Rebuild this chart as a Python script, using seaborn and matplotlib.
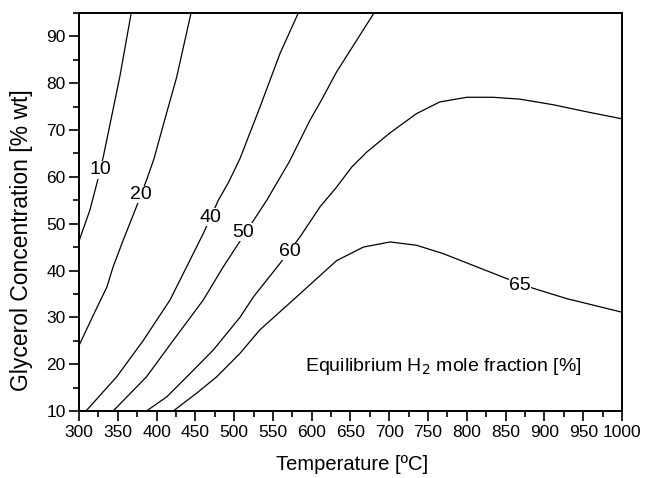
import matplotlib
matplotlib.use("Agg")
import matplotlib.pyplot as plt
import matplotlib.font_manager as fm
import seaborn as sns
import pandas as pd
from matplotlib.ticker import MultipleLocator

# Contour lines: temperature [°C] and glycerol concentration [% wt]
t10 = [300, 314, 323, 331.3, 352.5, 367.3]
g10 = [46.3, 52.9, 58.6, 64.3, 81.3, 95]

t20 = [300, 320, 336, 344, 357, 374, 387, 396.7, 411, 425.9, 444.4]
g20 = [24, 31, 36.5, 40.8, 46.5, 53.6, 59.3, 63.9, 72.5, 81.3, 95]

t40 = [309, 348.6, 383, 417.3, 438.8, 460.2, 479.6, 493, 507.5, 533.3,
       559, 582.7]
g40 = [10, 17.3, 25.1, 33.7, 40.8, 47.9, 55, 58.9, 63.9, 74.9, 86.3, 95]

t50 = [344, 387, 421.6, 460.2, 486, 505.3, 542, 571, 597.8, 612.9, 632,
       680.3]
g50 = [10, 17.3, 25.1, 33.7, 40.8, 45.7, 55, 63.2, 72.1, 76.5, 82.4, 95]

t60 = [387, 413, 439, 473, 507.5, 525, 559, 585, 610.7, 632, 651.6,
       671, 701, 735, 765, 800, 834, 868.5, 911.5, 954.5, 1000]
g60 = [10, 13, 17.3, 23, 30, 34.4, 41.5, 47.2, 53.6, 57.8, 62.1,
       65.3, 69.4, 73.5, 76, 77, 77, 76.6, 75.4, 73.9, 72.4]

t65 = [421.6, 451.6, 477.5, 507.5, 533, 576, 602, 632, 666.5, 701, 735,
       769.6, 808, 851, 885.7, 928.7, 1000]
g65 = [10, 13.8, 17.3, 22.3, 27.3, 33.7, 37.6, 42.1, 45, 46.1, 45.4,
       43.6, 41.1, 38.3, 36.2, 34, 31.1]

levels = ["10", "20", "40", "50", "60", "65"]
label_t = [328, 379.5, 469, 512, 572, 868.5]
label_g = [61.5, 56.3, 51.4, 48.2, 44.0, 36.9]

x_ticks = list(range(300, 1001, 50))
y_ticks = list(range(10, 91, 10))

curves = {"10": (t10, g10), "20": (t20, g20), "40": (t40, g40),
          "50": (t50, g50), "60": (t60, g60), "65": (t65, g65)}

sns.set_theme(style="ticks")
plt.rcParams["font.family"] = ["Liberation Sans", "DejaVu Sans"]
plt.rcParams["text.color"] = "black"
plt.rcParams["axes.labelcolor"] = "black"
plt.rcParams["xtick.color"] = "black"
plt.rcParams["ytick.color"] = "black"

installed = {f.name for f in fm.fontManager.ttflist}
if "Liberation Sans Narrow" in installed:
    tick_font = dict(family=["Liberation Sans Narrow", "DejaVu Sans"],
                     size=13.5)
else:
    tick_font = dict(family=["Liberation Sans", "DejaVu Sans"], size=12.5)

fig = plt.figure(figsize=(6.45, 4.78), dpi=100)
ax = fig.add_axes([0.1225, 0.1402, 0.8418, 0.8326])

for lev in levels:
    tx, gy = curves[lev]
    df = pd.DataFrame({"T": tx, "G": gy})
    sns.lineplot(data=df, x="T", y="G", sort=False, estimator=None,
                 color="black", linewidth=0.9, ax=ax)

for lev, lt, lg in zip(levels, label_t, label_g):
    ax.text(lt, lg, lev, ha="center", va="center", fontsize=14,
            color="black", zorder=5,
            bbox=dict(facecolor="white", edgecolor="none", pad=0.2))

ax.text(770, 19.4, "Equilibrium H$_2$ mole fraction [%]", ha="center",
        va="center", fontsize=14)

ax.set_xlim(300, 1000)
ax.set_ylim(10, 95)
ax.set_xticks(x_ticks)
ax.set_yticks(y_ticks)
ax.xaxis.set_minor_locator(MultipleLocator(25))
ax.yaxis.set_minor_locator(MultipleLocator(5))
ax.tick_params(which="major", direction="out", length=7, width=1.2,
               colors="black", top=False, right=False)
ax.tick_params(axis="x", which="major", pad=3)
ax.tick_params(axis="y", which="major", pad=2.5)
ax.tick_params(which="minor", direction="out", length=4, width=1.2,
               top=False, right=False)
plt.setp(ax.get_xticklabels() + ax.get_yticklabels(), **tick_font)
ax.set_xlabel("")
ax.set_ylabel("")
fig.text(352 / 645, 1 - 465 / 478, "Temperature [ºC]", ha="center",
         va="center", fontsize=14.5)
fig.text(22 / 645, 1 - 240 / 478, "Glycerol Concentration [% wt]",
         ha="center", va="center", rotation=90, fontsize=16.5)
for s in ax.spines.values():
    s.set_visible(True)
    s.set_color("black")
    s.set_linewidth(1.4)

fig.savefig("out.png", dpi=100)
